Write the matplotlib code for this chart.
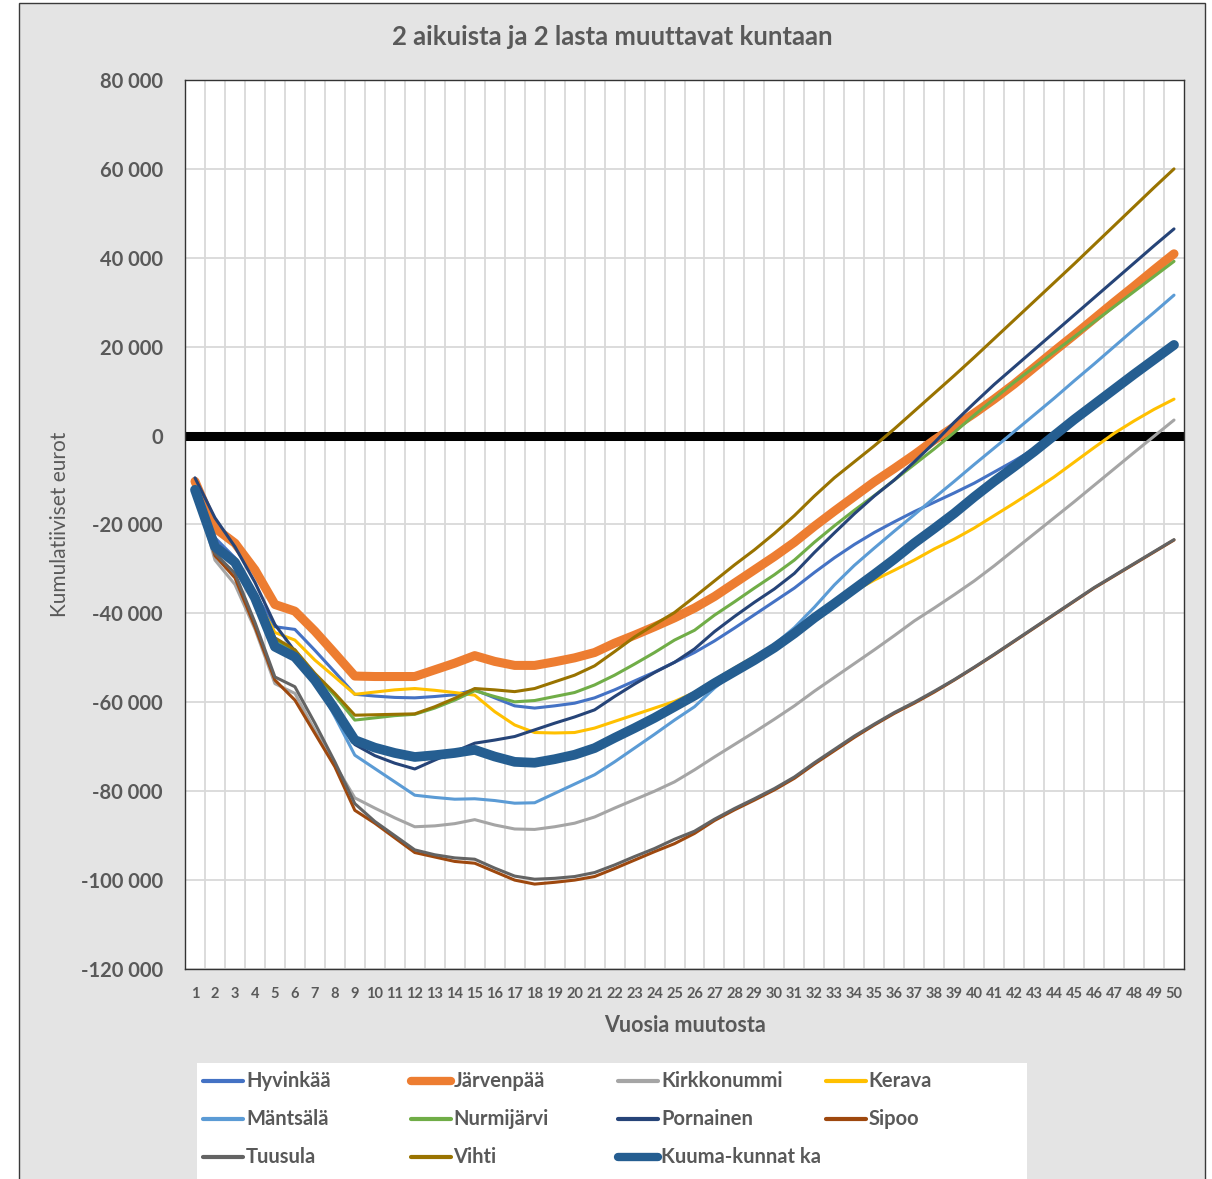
import matplotlib
matplotlib.use("Agg")
import matplotlib.pyplot as plt
from matplotlib.lines import Line2D
from matplotlib.patches import Rectangle
from matplotlib.ticker import FuncFormatter, MultipleLocator

plt.rcParams["font.family"] = ["Lato", "DejaVu Sans"]

TEXT = "#595959"
GRID = "#d9d9d9"

years = list(range(1, 51))

hyvinkaa = [-11000, -23000, -27500, -35500, -43000, -43600, -48300, -53200, -58200, -58600,
            -58900, -59000, -58700, -58300, -57200, -59000, -60800, -61300, -60800, -60200,
            -59000, -57200, -55200, -53200, -51000, -48800, -46200, -43300, -40300, -37300,
            -34300, -30800, -27500, -24500, -21800, -19400, -17100, -15000, -12900, -10700,
            -8200, -5700, -3000, 200, 3800, 7300, 10700, 14000, 17200, 20400]
jarvenpaa = [-10300, -20800, -24200, -30200, -38000, -39500, -44000, -49000, -54100, -54200,
             -54200, -54200, -52700, -51200, -49500, -50800, -51700, -51700, -50900, -50000,
             -48800, -46700, -44900, -43000, -41000, -38800, -36200, -33200, -30200, -27200,
             -24000, -20400, -17000, -13700, -10400, -7400, -4300, -1000, 2000, 5000,
             8200, 11600, 15300, 19000, 22600, 26300, 30000, 33600, 37300, 40900]
kirkkonummi = [-12000, -28000, -33500, -43500, -55800, -58000, -66300, -74000, -81500, -83800,
               -86000, -88000, -87800, -87300, -86400, -87600, -88500, -88600, -88000, -87200,
               -85800, -83800, -81900, -80000, -77900, -75200, -72300, -69500, -66700, -63800,
               -60800, -57500, -54400, -51300, -48200, -45000, -41700, -38800, -35800, -32700,
               -29300, -25700, -22100, -18500, -14900, -11200, -7500, -3800, -150, 3500]
kerava = [-11500, -24000, -28500, -36000, -44300, -46000, -50500, -54300, -58200, -57700,
          -57200, -56900, -57300, -57800, -58400, -62100, -65100, -66800, -66900, -66800,
          -65800, -64300, -62800, -61300, -59800, -57800, -55000, -52300, -49700, -47400,
          -44800, -41300, -38000, -35000, -32500, -30300, -28000, -25500, -23300, -20800,
          -18000, -15200, -12300, -9300, -6000, -2700, 500, 3300, 5900, 8200]
mantsala = [-11500, -25000, -29000, -36500, -46500, -48200, -55000, -63200, -71900, -74900,
            -77900, -80900, -81400, -81800, -81700, -82100, -82700, -82600, -80500, -78400,
            -76300, -73400, -70300, -67200, -64000, -61000, -56800, -53200, -50000, -47000,
            -43200, -38600, -33600, -29200, -25300, -21500, -17800, -14000, -10300, -6500,
            -2800, 900, 4650, 8400, 12300, 16100, 20000, 23900, 27700, 31600]
nurmijarvi = [-11500, -24500, -29000, -37000, -45800, -48300, -53700, -58500, -64000, -63500,
              -63000, -62700, -61300, -59500, -57400, -58700, -59900, -59600, -58700, -57800,
              -56100, -53900, -51400, -48800, -46000, -43800, -40400, -37400, -34300, -31300,
              -28000, -24000, -20300, -16800, -13500, -10000, -6500, -3000, 700, 4600,
              8300, 12000, 15400, 18800, 22200, 25600, 29000, 32400, 35800, 39200]
pornainen = [-9500, -18500, -25000, -33000, -42500, -48500, -55500, -62500, -69500, -72000,
             -73700, -75000, -73000, -71100, -69200, -68500, -67700, -66200, -64700, -63300,
             -61700, -58700, -55900, -53300, -51000, -48000, -44100, -40700, -37500, -34500,
             -31000, -26300, -21900, -17600, -13600, -10000, -5900, -1600, 3000, 7300,
             11500, 15400, 19300, 23200, 27100, 31000, 34900, 38800, 42700, 46500]
sipoo = [-12000, -27000, -32000, -43000, -55000, -59500, -67000, -74500, -84300, -87200,
         -90500, -93800, -94800, -95800, -96200, -98100, -100000, -100900, -100500, -100000,
         -99200, -97400, -95500, -93600, -91800, -89500, -86600, -84200, -82000, -79700,
         -77100, -73900, -70900, -67900, -65100, -62500, -60200, -57700, -55000, -52200,
         -49300, -46300, -43300, -40300, -37300, -34300, -31600, -28900, -26200, -23500]
tuusula = [-12000, -26500, -31000, -42000, -54300, -56500, -64700, -73400, -82800, -86800,
           -90000, -93200, -94300, -95000, -95300, -97300, -99100, -99800, -99600, -99200,
           -98300, -96600, -94700, -92900, -90800, -89000, -86300, -83900, -81700, -79400,
           -76800, -73600, -70600, -67600, -64900, -62300, -60000, -57500, -54900, -52100,
           -49200, -46200, -43200, -40200, -37200, -34200, -31500, -28800, -26100, -23400]
vihti = [-11500, -24500, -29000, -37000, -45500, -48200, -53500, -58000, -62900, -62800,
         -62700, -62600, -61000, -59100, -56900, -57200, -57600, -56900, -55400, -53900,
         -51800, -48600, -45300, -42500, -39800, -36300, -32700, -29100, -25700, -22000,
         -18000, -13600, -9500, -5900, -2300, 1500, 5500, 9500, 13500, 17600,
         21800, 26000, 30200, 34400, 38600, 42900, 47200, 51500, 55800, 60000]
kuuma = [-12200, -25000, -28500, -36500, -47500, -49800, -55000, -61500, -68500, -70200,
         -71400, -72300, -71900, -71400, -70700, -72200, -73400, -73600, -72800, -71800,
         -70300, -68000, -65800, -63500, -61000, -58500, -55700, -53100, -50500, -47700,
         -44500, -41000, -37800, -34500, -31200, -27800, -24200, -20900, -17500, -13800,
         -10300, -7000, -3600, 0, 3600, 7000, 10400, 13800, 17100, 20400]

names = ["Hyvinkää", "Järvenpää", "Kirkkonummi", "Kerava", "Mäntsälä", "Nurmijärvi",
         "Pornainen", "Sipoo", "Tuusula", "Vihti", "Kuuma-kunnat ka"]
series = [hyvinkaa, jarvenpaa, kirkkonummi, kerava, mantsala, nurmijarvi,
          pornainen, sipoo, tuusula, vihti, kuuma]
colors = ["#4472C4", "#ED7D31", "#A5A5A5", "#FFC000", "#5B9BD5", "#70AD47",
          "#264478", "#9E480E", "#636363", "#997300", "#255E91"]
widths = [2.2, 6.5, 2.2, 2.2, 2.2, 2.2, 2.2, 2.2, 2.2, 2.2, 7.0]

W, H = 1212, 1179
fig = plt.figure(figsize=(W / 100, H / 100), dpi=100, facecolor="white")

# grey chart area with border
fig.patches.append(Rectangle((19 / W, -0.01), (1205 - 19) / W, 1.01 - 3 / H,
                             transform=fig.transFigure, facecolor="#e4e4e4",
                             edgecolor="#3a3a3a", lw=1.0, zorder=-2))

ax = fig.add_axes([185 / W, 1 - 969 / H, (1184 - 185) / W, (969 - 80) / H])
ax.set_zorder(1)
ax.set_facecolor("white")

for name, vals, c, lw in zip(names, series, colors, widths):
    ax.plot(years, vals, color=c, lw=lw, solid_capstyle="round",
            solid_joinstyle="round", zorder=3, label=name)

ax.axhline(0, color="black", lw=6.5, zorder=2)

ax.set_xlim(0.5, 50.5)
ax.set_ylim(-120000, 80000)
ax.yaxis.set_major_locator(MultipleLocator(20000))
ax.yaxis.set_major_formatter(FuncFormatter(lambda v, p: f"{v:,.0f}".replace(",", " ")))
ax.set_xticks(years)
ax.set_xticks([y + 0.5 for y in years[:-1]], minor=True)
ax.grid(axis="y", which="major", color=GRID, lw=1.3, zorder=1)
ax.grid(axis="x", which="minor", color=GRID, lw=1.3, zorder=1)
ax.set_axisbelow(True)

ax.tick_params(axis="both", which="both", length=0)
ax.tick_params(axis="y", labelsize=14.5, colors=TEXT, pad=16)
ax.tick_params(axis="x", labelsize=10.5, colors=TEXT, pad=13)
for lbl in ax.get_yticklabels() + ax.get_xticklabels():
    lbl.set_fontweight("bold")

for s in ax.spines.values():
    s.set_color("#333333")
    s.set_linewidth(1.0)

fig.text(612 / W, 1 - 37 / H, "2 aikuista ja 2 lasta muuttavat kuntaan", ha="center",
         va="center", fontsize=18.5, fontweight="bold", color=TEXT)
fig.text(685 / W, 1 - 1025 / H, "Vuosia muutosta", ha="center", va="center",
         fontsize=15.5, fontweight="bold", color=TEXT)
fig.text(60 / W, 1 - 524 / H, "Kumulatiiviset eurot", ha="center", va="center",
         rotation=90, fontsize=15, color=TEXT)

# legend box
fig.patches.append(Rectangle((197 / W, -0.01), (1027 - 197) / W, 0.01 + (1179 - 1063) / H,
                             transform=fig.transFigure, facecolor="white",
                             edgecolor="none", zorder=-1))
for i, (name, c, lw) in enumerate(zip(names, colors, widths)):
    row, col = divmod(i, 4)
    x0 = 203 + col * 207.5
    y0 = 1081 + row * 38
    fig.add_artist(Line2D([x0 / W, (x0 + 40) / W], [1 - y0 / H, 1 - y0 / H],
                          transform=fig.transFigure, color=c,
                          lw=6.0 if lw > 5 else 3.0,
                          solid_capstyle="round", zorder=2))
    fig.text((x0 + 43) / W, 1 - y0 / H, name, ha="left", va="center",
             fontsize=14.5, fontweight="bold", color=TEXT, zorder=2)

fig.savefig("out.png", dpi=100, facecolor="white")
